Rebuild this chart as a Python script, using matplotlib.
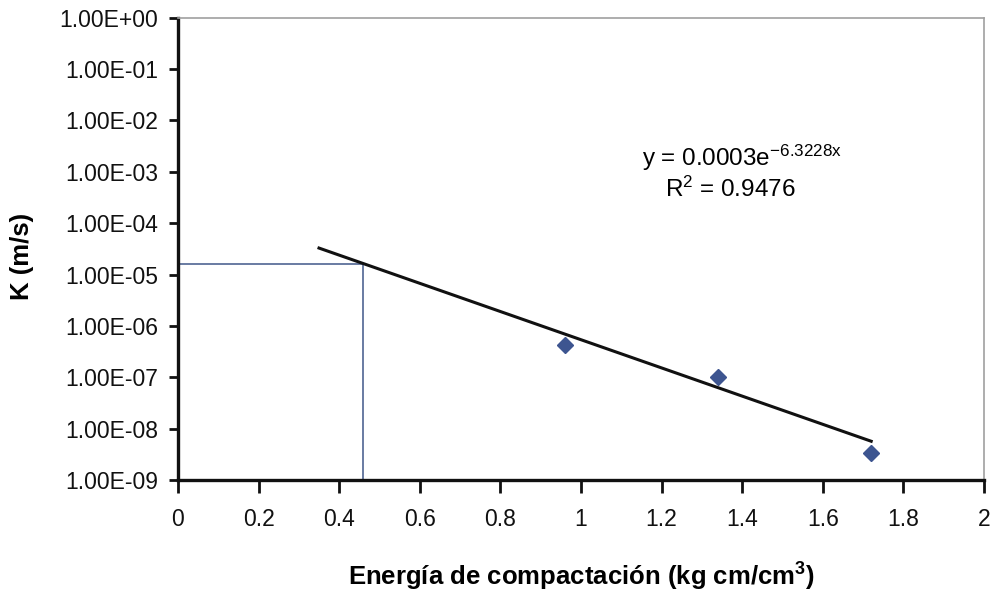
import numpy as np
import matplotlib
matplotlib.use('Agg')
from matplotlib import pyplot as plt
from matplotlib.ticker import FuncFormatter

plt.rcParams['font.family'] = ['Liberation Sans', 'DejaVu Sans']
plt.rcParams['mathtext.default'] = 'regular'

# measured permeability vs compaction energy
energy = [0.96, 1.34, 1.72]          # kg cm/cm3
k_measured = [4.2e-7, 1.0e-7, 3.4e-9]  # m/s

# exponential trendline y = a*exp(b*x)
fit_a = 0.0003
fit_b = -6.3228
fit_r2 = 0.9476
fit_range = [0.35, 1.72]

# read-off guide at a chosen energy
guide_x = 0.46

fig = plt.figure(figsize=(9.94, 5.93), dpi=100)
ax = fig.add_axes([0.179, 0.1906, 0.811, 0.7794])

xs = np.linspace(fit_range[0], fit_range[1], 200)
ax.plot(xs, fit_a*np.exp(fit_b*xs), color='#111111', lw=2.2, zorder=3)
ax.plot(energy, k_measured, 'D', color='#3d5590', markersize=8, zorder=4)

guide_y = fit_a*np.exp(fit_b*guide_x)
ax.plot([0, guide_x], [guide_y, guide_y], color='#4f6592', lw=1.2, zorder=2)
ax.plot([guide_x, guide_x], [1e-9, guide_y], color='#4f6592', lw=1.2, zorder=2)

ax.set_yscale('log')
ax.set_xlim(0, 2)
ax.set_ylim(1e-9, 1)
ax.set_yticks([10.0**e for e in range(-9, 1)])
ax.yaxis.set_minor_locator(plt.NullLocator())
ax.yaxis.set_major_formatter(FuncFormatter(lambda v, p: '%.2E' % v))
ax.set_xticks(np.arange(0, 2.01, 0.2))
ax.xaxis.set_major_formatter(FuncFormatter(lambda v, p: '%g' % round(v, 1)))

for side in ['left', 'bottom']:
    ax.spines[side].set_linewidth(2.4)
    ax.spines[side].set_color('#111111')
for side in ['top', 'right']:
    ax.spines[side].set_linewidth(1.2)
    ax.spines[side].set_color('#a0a0a0')

ax.tick_params(axis='y', direction='out', length=6.5, width=2, pad=7.5, labelsize=16.5, colors='#111111')
ax.tick_params(axis='x', direction='out', length=9, width=2, pad=11, labelsize=16.5, colors='#111111')

ax.set_xlabel('Energía de compactación (kg cm/cm$^{3}$)', fontsize=18.5, fontweight='bold')
ax.xaxis.set_label_coords(0.5, -0.175)
ax.set_ylabel('K (m/s)', fontsize=18.5, fontweight='bold')
ax.yaxis.set_label_coords(-0.179, 0.483)

ax.text(0.70, 0.697, 'y = 0.0003e$^{-6.3228x}$', transform=ax.transAxes,
        ha='center', va='center', fontsize=17.5)
ax.text(0.685, 0.628, 'R$^{2}$ = %.4f' % fit_r2, transform=ax.transAxes,
        ha='center', va='center', fontsize=17.5)

fig.savefig('out.png', dpi=100, facecolor='white')
